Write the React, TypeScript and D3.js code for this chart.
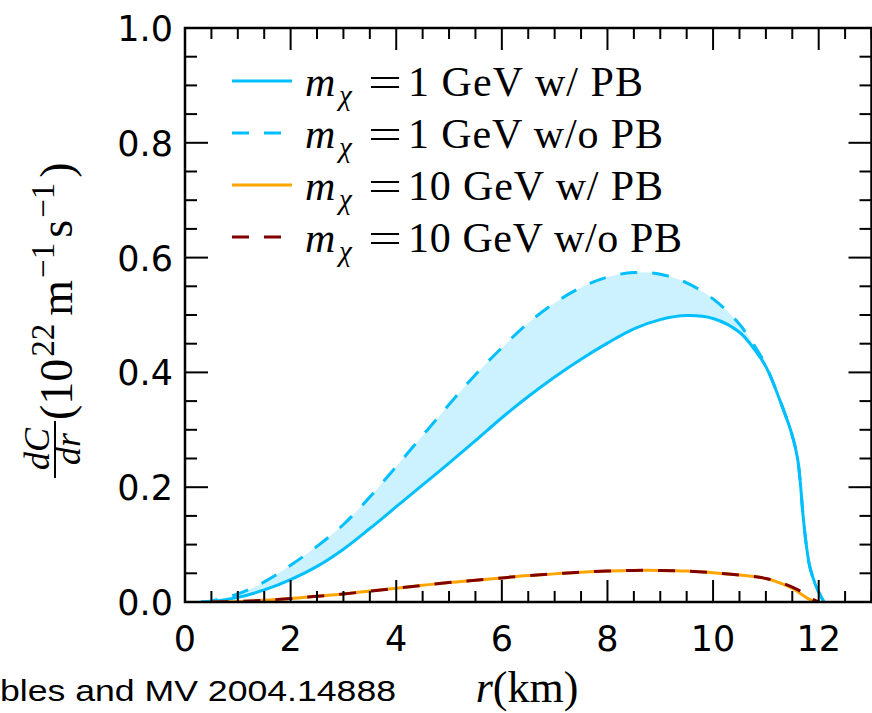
import * as d3 from 'd3'

// r (km) grid for the 1 GeV curves
const r1 = [0.3, 0.5, 1.0, 1.5, 2.0, 2.5, 3.0, 3.5, 4.0, 4.5, 5.0, 5.5, 6.0, 6.5, 7.0, 7.5, 8.0, 8.5, 9.0, 9.5, 10.0, 10.5, 10.8, 11.0, 11.3, 11.5, 11.6, 11.65, 11.7, 11.77, 11.83, 11.9, 11.96, 12.03, 12.1]
const withPB1 = [0, 0.001, 0.008, 0.021, 0.039, 0.062, 0.092, 0.128, 0.166, 0.204, 0.242, 0.281, 0.321, 0.358, 0.392, 0.423, 0.451, 0.476, 0.492, 0.499, 0.494, 0.47, 0.438, 0.41, 0.343, 0.29, 0.25, 0.21, 0.155, 0.096, 0.062, 0.04, 0.025, 0.012, 0]
const noPB1 = [0, 0.002, 0.014, 0.035, 0.064, 0.097, 0.135, 0.183, 0.236, 0.29, 0.344, 0.396, 0.443, 0.486, 0.521, 0.548, 0.566, 0.574, 0.571, 0.556, 0.528, 0.484, 0.444, 0.412, 0.343, 0.29, 0.25, 0.21, 0.155, 0.096, 0.062, 0.04, 0.025, 0.012, 0]

// r (km) grid for the 10 GeV curves
const r10 = [0.5, 1.0, 1.5, 2.0, 2.5, 3.0, 3.5, 4.0, 4.5, 5.0, 5.5, 6.0, 6.5, 7.0, 7.5, 8.0, 8.5, 9.0, 9.5, 10.0, 10.5, 11.0, 11.3, 11.5, 11.65, 11.8, 11.9, 12.0]
const withPB10 = [0, 0.001, 0.003, 0.006, 0.01, 0.014, 0.019, 0.024, 0.029, 0.034, 0.038, 0.042, 0.046, 0.049, 0.052, 0.054, 0.055, 0.055, 0.054, 0.051, 0.047, 0.041, 0.032, 0.024, 0.015, 0.006, 0.002, 0]
const noPB10 = [0, 0.001, 0.003, 0.006, 0.01, 0.014, 0.019, 0.024, 0.029, 0.034, 0.038, 0.042, 0.046, 0.049, 0.052, 0.054, 0.055, 0.055, 0.054, 0.051, 0.047, 0.041, 0.033, 0.026, 0.019, 0.009, 0.004, 0]

const xTicks = [0, 2, 4, 6, 8, 10, 12]
const yTicks = [0, 0.2, 0.4, 0.6, 0.8, 1.0]

const legendItems = [
  { mass: '1', tail: 'w/ PB', color: '#00bfff', dash: null, width: 235 },
  { mass: '1', tail: 'w/o PB', color: '#00bfff', dash: '17,15', width: 255 },
  { mass: '10', tail: 'w/ PB', color: '#ffa500', dash: null, width: 255 },
  { mass: '10', tail: 'w/o PB', color: '#800000', dash: '17,15', width: 274 },
]

const W = 872
const H = 713
const serif = '"Liberation Serif", "DejaVu Serif", serif'
const sans = '"DejaVu Sans", sans-serif'

export default function App() {
  const x = d3.scaleLinear().domain([0, 13]).range([185, 871.5])
  const y = d3.scaleLinear().domain([0, 1]).range([602, 28])
  const [x0, x1] = x.range()
  const [y0, y1] = y.range()

  const curve = d3.curveCatmullRom.alpha(0.5)
  const line = d3.line<[number, number]>().x((d) => x(d[0])).y((d) => y(d[1])).curve(curve)
  const pts = (rs: number[], vs: number[]) => rs.map((r, i) => [r, vs[i]] as [number, number])

  const band = d3.area<number>()
    .x((_, i) => x(r1[i]))
    .y0((_, i) => y(withPB1[i]))
    .y1((_, i) => y(noPB1[i]))
    .curve(curve)

  const xMinor = d3.range(0, 13.01, 0.5)
  const yMinor = d3.range(0, 21).map((i) => i * 0.05)

  return (
    <svg width={W} height={H} style={{ position: 'absolute', left: 0, top: 0, background: '#fff' }}>
      <defs>
        <clipPath id="plot">
          <rect x={x0} y={y1} width={x1 - x0} height={y0 - y1} />
        </clipPath>
      </defs>

      <g clipPath="url(#plot)">
        <path d={band(r1) ?? ''} fill="#00bfff" fillOpacity={0.2} />
        <path d={line(pts(r1, withPB1)) ?? ''} fill="none" stroke="#00bfff" strokeWidth={3} />
        <path d={line(pts(r1, noPB1)) ?? ''} fill="none" stroke="#00bfff" strokeWidth={3} strokeDasharray="17,15" />
        <path d={line(pts(r10, withPB10)) ?? ''} fill="none" stroke="#ffa500" strokeWidth={3} />
        <path d={line(pts(r10, noPB10)) ?? ''} fill="none" stroke="#800000" strokeWidth={3} strokeDasharray="17,15" />
      </g>

      {/* ticks, inward on all four sides */}
      <g stroke="#000" strokeWidth={2}>
        {xMinor.map((v) => {
          const len = v % 2 === 0 ? 22 : 11
          return (
            <g key={'x' + v}>
              <line x1={x(v)} x2={x(v)} y1={y0} y2={y0 - len} />
              <line x1={x(v)} x2={x(v)} y1={y1} y2={y1 + len} />
            </g>
          )
        })}
        {yMinor.map((v, i) => {
          const len = i % 4 === 0 ? 23 : 12
          return (
            <g key={'y' + i}>
              <line x1={x0} x2={x0 + len} y1={y(v)} y2={y(v)} />
              <line x1={x1} x2={x1 - len} y1={y(v)} y2={y(v)} />
            </g>
          )
        })}
      </g>
      <rect x={x0} y={y1} width={x1 - x0} height={y0 - y1} fill="none" stroke="#000" strokeWidth={2.5} />

      {/* tick labels */}
      <g fontFamily={sans} fontSize={35} fill="#000">
        {yTicks.map((v) => (
          <text key={v} x={173} y={y(v) + 13} textAnchor="end">{v.toFixed(1)}</text>
        ))}
        {xTicks.map((v) => (
          <text key={v} x={x(v)} y={651} textAnchor="middle">{v}</text>
        ))}
      </g>

      {/* legend */}
      <g fontFamily={serif} fontSize={42} fill="#000">
        {legendItems.map((d, i) => {
          const base = 96 + i * 52
          return (
            <g key={i}>
              <line x1={232} x2={292} y1={base - 15} y2={base - 15} stroke={d.color} strokeWidth={3}
                strokeDasharray={d.dash ?? undefined} />
              <text x={305} y={base} fontStyle="italic">m</text>
              <text x={339} y={base + 9} fontStyle="italic" fontSize={29}>χ</text>
              <text x={368} y={base} textLength={34} lengthAdjust="spacingAndGlyphs">=</text>
              <text x={408} y={base} textLength={d.width} lengthAdjust="spacing">{d.mass} GeV {d.tail}</text>
            </g>
          )
        })}
      </g>

      {/* y axis label */}
      <g transform="translate(0,315) rotate(-90)" fontFamily={serif} fill="#000">
        <text x={-134} y={49} textAnchor="middle" fontSize={36} fontStyle="italic">dC</text>
        <line x1={-163} x2={-106} y1={55} y2={55} stroke="#000" strokeWidth={2} />
        <text x={-134} y={80} textAnchor="middle" fontSize={36} fontStyle="italic">dr</text>
        <text x={-105} y={72} fontSize={46}>
          <tspan>(10</tspan>
          <tspan fontSize={33} dy={-18} dx={2}>22</tspan>
          <tspan dy={18} dx={8}>m</tspan>
          <tspan fontSize={33} dy={-18} dx={2}>−1</tspan>
          <tspan dy={18} dx={5}>s</tspan>
          <tspan fontSize={33} dy={-18} dx={2}>−1</tspan>
          <tspan dy={18} dx={5}>)</tspan>
        </text>
      </g>

      {/* x axis label */}
      <text x={527} y={702} textAnchor="middle" fontFamily={serif} fontSize={44} fill="#000">
        <tspan fontStyle="italic">r</tspan>
        <tspan>(km)</tspan>
      </text>

      {/* citation */}
      <text x={0} y={701} fontFamily={'"Liberation Sans", Arial, sans-serif'} fontSize={30} textLength={396}
        lengthAdjust="spacingAndGlyphs" fill="#000">bles and MV 2004.14888</text>
    </svg>
  )
}
